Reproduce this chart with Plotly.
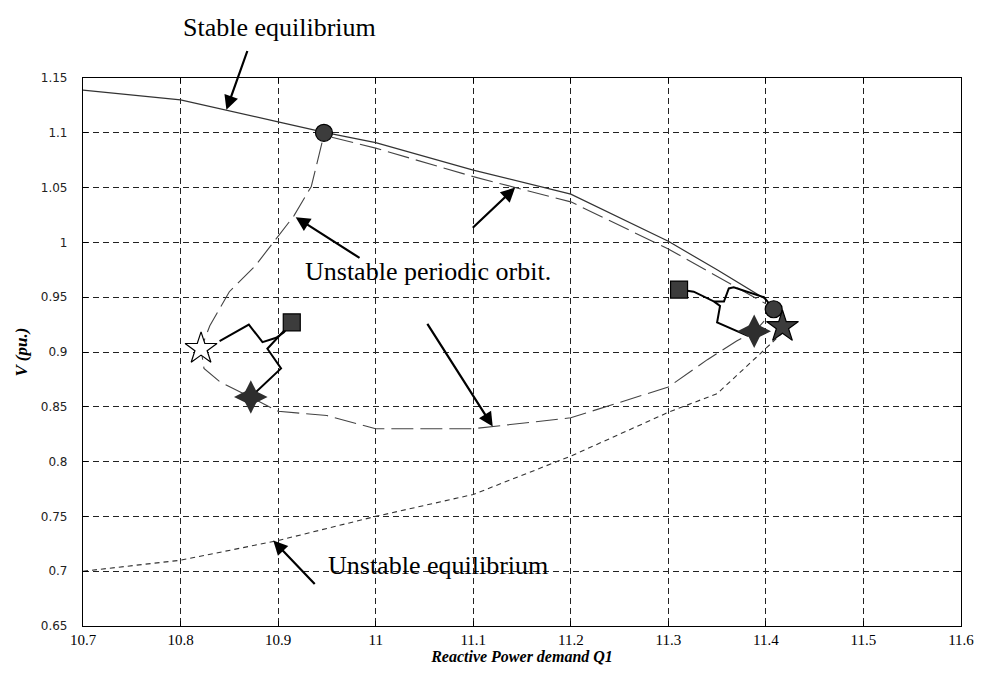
import plotly.graph_objects as go

# Stable equilibrium branch (solid)
stable_q = [10.70, 10.80, 10.90, 10.95, 11.00, 11.10, 11.20, 11.30, 11.35, 11.40]
stable_v = [1.139, 1.130, 1.110, 1.100, 1.091, 1.066, 1.044, 1.001, 0.975, 0.948]

# Unstable periodic orbit (long dashes): upper branch, then the loop back on the left and bottom
orbit_upper_q = [10.955, 11.00, 11.10, 11.20, 11.30, 11.35, 11.40]
orbit_upper_v = [1.096, 1.086, 1.060, 1.037, 0.994, 0.969, 0.944]
orbit_lower_q = [10.945, 10.934, 10.916, 10.898, 10.876, 10.850, 10.830, 10.821, 10.824, 10.840,
                 10.860, 10.872, 10.900, 10.950, 11.00, 11.10, 11.20, 11.30, 11.34, 11.37, 11.39, 11.405]
orbit_lower_v = [1.091, 1.051, 1.024, 1.003, 0.978, 0.955, 0.924, 0.903, 0.885, 0.873,
                 0.864, 0.859, 0.846, 0.842, 0.830, 0.830, 0.840, 0.868, 0.893, 0.910, 0.920, 0.935]

# Unstable equilibrium branch (short dashes)
unstable_q = [10.70, 10.80, 10.90, 11.00, 11.10, 11.20, 11.30, 11.35, 11.39, 11.42]
unstable_v = [0.700, 0.710, 0.728, 0.750, 0.770, 0.805, 0.845, 0.862, 0.895, 0.920]

# Trajectories near the left end of the orbit
traj_left_a_q = [10.840, 10.870, 10.884, 10.898, 10.906, 10.914]
traj_left_a_v = [0.910, 0.925, 0.909, 0.913, 0.918, 0.927]
traj_left_b_q = [10.914, 10.901, 10.889, 10.903, 10.881, 10.872]
traj_left_b_v = [0.927, 0.915, 0.903, 0.885, 0.866, 0.859]

# Trajectories near the right end of the orbit
traj_right_a_q = [11.311, 11.326, 11.347, 11.357, 11.362, 11.367, 11.398, 11.408]
traj_right_a_v = [0.957, 0.955, 0.946, 0.946, 0.958, 0.959, 0.950, 0.939]
traj_right_b_q = [11.347, 11.353, 11.350, 11.381, 11.388]
traj_right_b_v = [0.946, 0.942, 0.927, 0.915, 0.919]

# Marked points
circle_q = [10.947, 11.408]
circle_v = [1.100, 0.939]
square_q = [10.914, 11.311]
square_v = [0.927, 0.957]
star4_q = [10.872, 11.388]
star4_v = [0.859, 0.919]
star5_q = [11.417]
star5_v = [0.923]
open_star_q = [10.821]
open_star_v = [0.903]

x_ticks = [10.7, 10.8, 10.9, 11.0, 11.1, 11.2, 11.3, 11.4, 11.5, 11.6]
x_tick_text = ["10.7", "10.8", "10.9", "11", "11.1", "11.2", "11.3", "11.4", "11.5", "11.6"]
y_ticks = [0.65, 0.7, 0.75, 0.8, 0.85, 0.9, 0.95, 1.0, 1.05, 1.1, 1.15]
y_tick_text = ["0.65", "0.7", "0.75", "0.8", "0.85", "0.9", "0.95", "1", "1.05", "1.1", "1.15"]

fig = go.Figure()

def line(q, v, color, width, dash):
    fig.add_trace(go.Scatter(x=q, y=v, mode="lines",
                             line=dict(color=color, width=width, dash=dash),
                             hoverinfo="skip", showlegend=False))

line(stable_q, stable_v, "#333333", 1.2, "solid")
line(orbit_upper_q, orbit_upper_v, "#444444", 1.1, "22px,7px")
line(orbit_lower_q, orbit_lower_v, "#444444", 1.1, "22px,7px")
line(unstable_q, unstable_v, "#333333", 1.1, "5px,4px")
for q, v in [(traj_left_a_q, traj_left_a_v), (traj_left_b_q, traj_left_b_v),
             (traj_right_a_q, traj_right_a_v), (traj_right_b_q, traj_right_b_v)]:
    line(q, v, "black", 2, "solid")

def markers(q, v, symbol, size, fill, outline=1.2):
    fig.add_trace(go.Scatter(x=q, y=v, mode="markers",
                             marker=dict(symbol=symbol, size=size, color=fill,
                                         line=dict(color="black", width=outline)),
                             hoverinfo="skip", showlegend=False))

markers(circle_q, circle_v, "circle", 17, "#3c3c3c")
markers(square_q, square_v, "square", 17, "#3c3c3c")
# four-pointed sparkle built from a tall and a wide diamond
markers(star4_q, star4_v, "diamond-tall", 24, "#2e2e2e", 0)
markers(star4_q, star4_v, "diamond-wide", 24, "#2e2e2e", 0)
markers(star5_q, star5_v, "star", 24, "#3c3c3c")
markers(open_star_q, open_star_v, "star", 24, "white")

serif = "Liberation Serif, Times New Roman, serif"

def arrow(tail_q, tail_v, tip_q, tip_v):
    fig.add_annotation(x=tip_q, y=tip_v, ax=tail_q, ay=tail_v,
                       xref="x", yref="y", axref="x", ayref="y",
                       text="", showarrow=True, arrowhead=2, arrowsize=1.3,
                       arrowwidth=2.2, arrowcolor="black")

def label(q, v, text, yref="y"):
    fig.add_annotation(x=q, y=v, xref="x", yref=yref, text=text, showarrow=False,
                       xanchor="center", yanchor="middle",
                       font=dict(family=serif, size=26, color="black"))

label(10.901, 1.093, "Stable equilibrium", yref="paper")
arrow(10.869, 1.176, 10.847, 1.121)

label(11.054, 0.973, "Unstable periodic orbit.")
arrow(10.985, 0.985, 10.918, 1.023)
arrow(11.098, 1.012, 11.143, 1.050)
arrow(11.052, 0.927, 11.120, 0.832)

label(11.064, 0.705, "Unstable equilibrium")
arrow(10.939, 0.687, 10.895, 0.728)

axis_common = dict(showline=True, linecolor="black", linewidth=1.2, mirror="allticks",
                   ticks="inside", ticklen=5, tickcolor="black",
                   showgrid=True, gridcolor="#222222", gridwidth=1, griddash="6px,4px",
                   zeroline=False)

fig.update_xaxes(range=[10.7, 11.6], tickvals=x_ticks, ticktext=x_tick_text,
                 tickfont=dict(family=serif, size=15, color="black"),
                 title=dict(text="<b><i>Reactive Power demand Q1</i></b>",
                            font=dict(family=serif, size=16, color="black"), standoff=2),
                 **axis_common)
fig.update_yaxes(range=[0.65, 1.15], tickvals=y_ticks, ticktext=y_tick_text,
                 tickfont=dict(family="DejaVu Sans, sans-serif", size=12, color="#222222"),
                 ticklabelstandoff=12,
                 title=dict(text="<b><i>V (pu.)</i></b>",
                            font=dict(family=serif, size=17, color="black"), standoff=8),
                 **axis_common)

fig.update_layout(width=986, height=673, plot_bgcolor="white", paper_bgcolor="white",
                  margin=dict(l=83, r=21, t=78, b=45), showlegend=False)

fig.write_html("out.html")
